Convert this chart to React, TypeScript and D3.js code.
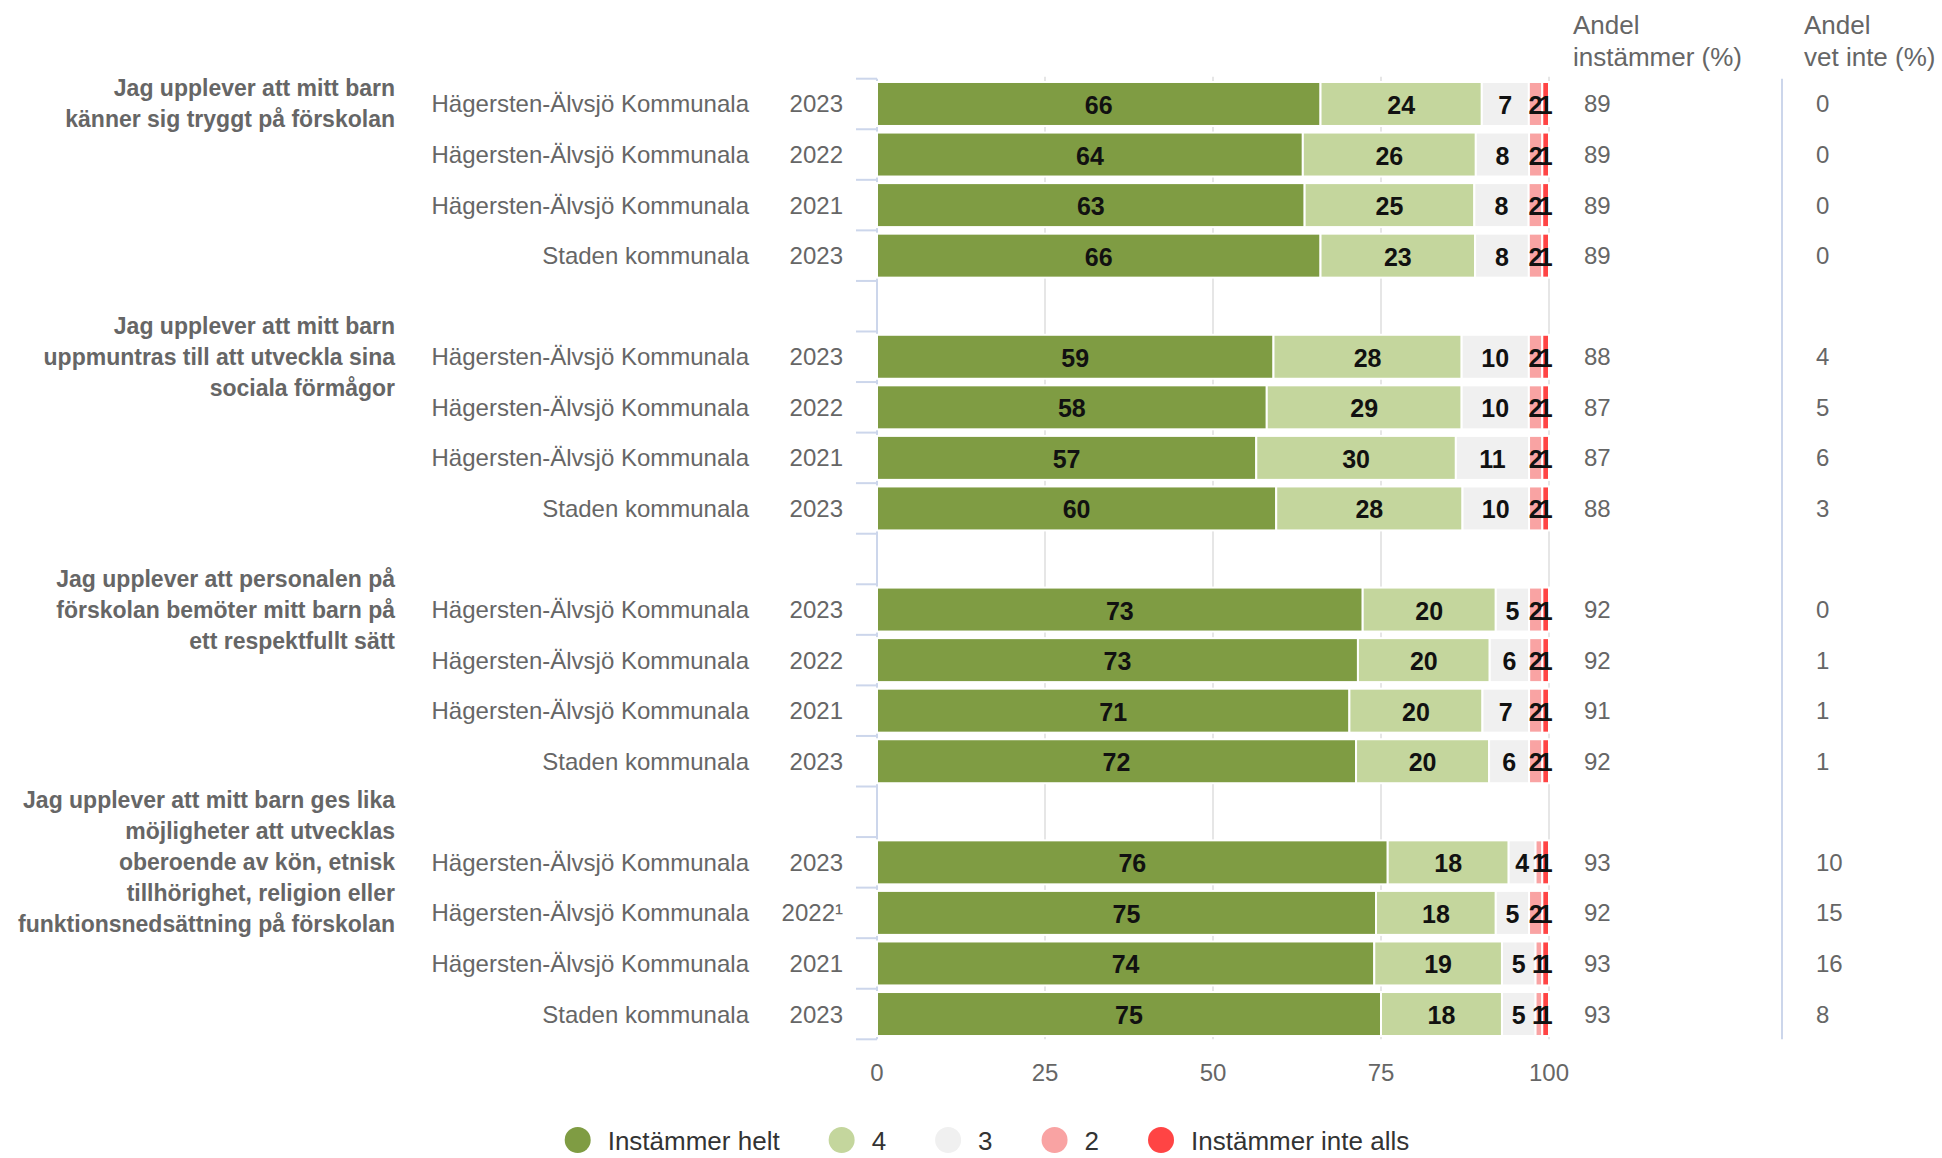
import React from 'react';
import * as d3 from 'd3';

// survey statements, wrapped the way the original wraps them
const questionLines = [
  ['Jag upplever att mitt barn', 'känner sig tryggt på förskolan'],
  ['Jag upplever att mitt barn', 'uppmuntras till att utveckla sina', 'sociala förmågor'],
  ['Jag upplever att personalen på', 'förskolan bemöter mitt barn på', 'ett respektfullt sätt'],
  [
    'Jag upplever att mitt barn ges lika',
    'möjligheter att utvecklas',
    'oberoende av kön, etnisk',
    'tillhörighet, religion eller',
    'funktionsnedsättning på förskolan'
  ]
];

const unitLabels = [
  'Hägersten-Älvsjö Kommunala',
  'Hägersten-Älvsjö Kommunala',
  'Hägersten-Älvsjö Kommunala',
  'Staden kommunala'
];

const yearLabels = [
  ['2023', '2022', '2021', '2023'],
  ['2023', '2022', '2021', '2023'],
  ['2023', '2022', '2021', '2023'],
  ['2023', '2022¹', '2021', '2023']
];

const seriesNames = ['Instämmer helt', '4', '3', '2', 'Instämmer inte alls'];
const seriesColors = ['#7f9c43', '#c4d69d', '#f0f0f0', '#f9a3a3', '#ff4444'];

// each row: [Instämmer helt, 4, 3, 2, Instämmer inte alls]
const tryggtValues = [
  [66, 24, 7, 2, 1],
  [64, 26, 8, 2, 1],
  [63, 25, 8, 2, 1],
  [66, 23, 8, 2, 1]
];
const socialaValues = [
  [59, 28, 10, 2, 1],
  [58, 29, 10, 2, 1],
  [57, 30, 11, 2, 1],
  [60, 28, 10, 2, 1]
];
const respektValues = [
  [73, 20, 5, 2, 1],
  [73, 20, 6, 2, 1],
  [71, 20, 7, 2, 1],
  [72, 20, 6, 2, 1]
];
const likaValues = [
  [76, 18, 4, 1, 1],
  [75, 18, 5, 2, 1],
  [74, 19, 5, 1, 1],
  [75, 18, 5, 1, 1]
];

const andelInstammer = [
  [89, 89, 89, 89],
  [88, 87, 87, 88],
  [92, 92, 91, 92],
  [93, 92, 93, 93]
];
const andelVetInte = [
  [0, 0, 0, 0],
  [4, 5, 6, 3],
  [0, 1, 1, 1],
  [10, 15, 16, 8]
];

const xTicks = [0, 25, 50, 75, 100];

const FONT = '"Liberation Sans", Arial, Helvetica, sans-serif';
const W = 1942;
const H = 1158;

function textWidth(txt, font) {
  const c = document.createElement('canvas').getContext('2d');
  c.font = font;
  return c.measureText(txt).width;
}

export default function App() {
  const groups = [tryggtValues, socialaValues, respektValues, likaValues];
  const rowsPerGroup = 4;
  const slotCount = groups.length * (rowsPerGroup + 1) - 1;
  const slots = d3.range(slotCount);

  const x = d3.scaleLinear().domain([0, 100]).range([877, 1549]);
  const y = d3.scaleBand()
    .domain(slots)
    .range([78.7, 1039.3])
    .paddingInner(0.13)
    .paddingOuter(0.065);

  const rows = [];
  groups.forEach((vals, gi) => {
    vals.forEach((v, ri) => {
      const total = d3.sum(v);
      let acc = 0;
      const segs = v.map((val, si) => {
        const s = { val, si, x0: (acc / total) * 100, x1: ((acc + val) / total) * 100 };
        acc += val;
        return s;
      });
      rows.push({ gi, ri, slot: gi * (rowsPerGroup + 1) + ri, segs });
    });
  });

  const step = y.step();
  const top = y.range()[0];
  const bottom = y.range()[1];
  const boundaries = d3.range(slotCount + 1).map(i => top + i * step);
  const bw = y.bandwidth();
  const cy = slot => y(slot) + bw / 2;

  // legend layout
  const legendFont = `26px ${FONT}`;
  const legendR = 13;
  const legendItems = [];
  let lx = 564.7;
  seriesNames.forEach((name, i) => {
    const tw = textWidth(name, legendFont);
    legendItems.push({ name, color: seriesColors[i], cx: lx + legendR, tx: lx + 43 });
    lx += 43 + tw + 49;
  });

  const grayText = '#666666';

  return (
    <div style={{ position: 'absolute', left: 0, top: 0 }}>
      <svg width={W} height={H} style={{ display: 'block', fontFamily: FONT }}>
        <rect width={W} height={H} fill="#ffffff" />

        {/* grid */}
        {xTicks.slice(1).map(t => (
          <line key={t} x1={x(t)} x2={x(t)} y1={top - 2} y2={bottom} stroke="#e6e6e6" strokeWidth={2} />
        ))}

        {/* category axis with ticks */}
        <line x1={x(0)} x2={x(0)} y1={top} y2={bottom} stroke="#ccd6eb" strokeWidth={2} />
        {boundaries.map((b, i) => (
          <line key={i} x1={x(0) - 21} x2={x(0)} y1={b} y2={b} stroke="#ccd6eb" strokeWidth={2} />
        ))}

        {/* bars */}
        {rows.map(r => (
          <g key={r.slot}>
            {r.segs.map(s => (
              <rect
                key={s.si}
                x={x(s.x0)}
                y={y(r.slot)}
                width={x(s.x1) - x(s.x0)}
                height={bw}
                fill={seriesColors[s.si]}
                stroke="#ffffff"
                strokeWidth={2}
              />
            ))}
            {r.segs.map(s => (
              <text
                key={'l' + s.si}
                x={(x(s.x0) + x(s.x1)) / 2}
                y={cy(r.slot) + 1}
                textAnchor="middle"
                dominantBaseline="central"
                fontSize={25}
                fontWeight="bold"
                fill="#111111"
              >
                {s.val}
              </text>
            ))}
          </g>
        ))}

        {/* row labels */}
        {rows.map(r => (
          <g key={'rl' + r.slot} fontSize={24} fill={grayText} dominantBaseline="central">
            <text x={749} y={cy(r.slot)} textAnchor="end">{unitLabels[r.ri]}</text>
            <text x={843} y={cy(r.slot)} textAnchor="end">{yearLabels[r.gi][r.ri]}</text>
            <text x={1584} y={cy(r.slot)}>{andelInstammer[r.gi][r.ri]}</text>
            <text x={1816} y={cy(r.slot)}>{andelVetInte[r.gi][r.ri]}</text>
          </g>
        ))}

        {/* statement labels, centred on the first row of each group */}
        {questionLines.map((lines, gi) => {
          const c = cy(gi * (rowsPerGroup + 1));
          const lh = 31;
          const y0 = c - ((lines.length - 1) * lh) / 2;
          return (
            <g key={'q' + gi} fontSize={23} fontWeight="bold" fill="#666666" textAnchor="end" dominantBaseline="central">
              {lines.map((ln, li) => (
                <text key={li} x={395} y={y0 + li * lh}>{ln}</text>
              ))}
            </g>
          );
        })}

        {/* extra columns */}
        <line x1={1782} x2={1782} y1={top} y2={bottom} stroke="#ccd6eb" strokeWidth={2} />
        <g fontSize={26} fill={grayText} dominantBaseline="central">
          <text x={1573} y={25}>Andel</text>
          <text x={1573} y={57}>instämmer (%)</text>
          <text x={1804} y={25}>Andel</text>
          <text x={1804} y={57}>vet inte (%)</text>
        </g>

        {/* x axis labels */}
        {xTicks.map(t => (
          <text key={'xt' + t} x={x(t)} y={1072} textAnchor="middle" dominantBaseline="central" fontSize={24} fill={grayText}>
            {t}
          </text>
        ))}

        {/* legend */}
        {legendItems.map(it => (
          <g key={it.name}>
            <circle cx={it.cx} cy={1140} r={legendR} fill={it.color} />
            <text x={it.tx} y={1141} dominantBaseline="central" fontSize={26} fill="#333333">{it.name}</text>
          </g>
        ))}
      </svg>
    </div>
  );
}
